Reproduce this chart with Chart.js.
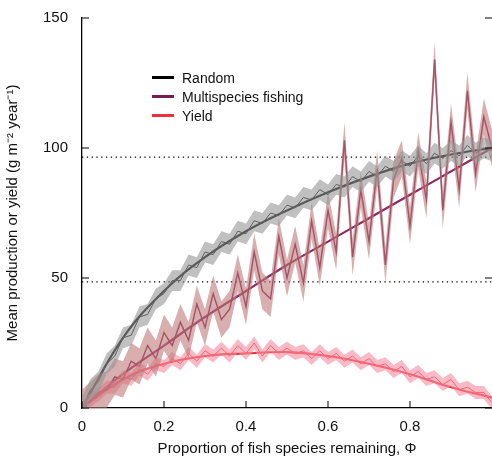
<!DOCTYPE html>
<html>
<head>
<meta charset="utf-8">
<script src="https://cdn.jsdelivr.net/npm/chart.js@4"></script>
<style>
  body { margin: 0; background: #fff; }
  #wrap { position: relative; width: 492px; height: 462px; }
  #legend { position: absolute; left: 152px; top: 68px; font: 14px "Liberation Sans", Arial, sans-serif; color: #111; }
  #legend div { height: 19px; display: flex; align-items: center; }
  #legend span.sw { display: inline-block; width: 22px; height: 3px; margin-right: 8px; }
</style>
</head>
<body>
<div id="wrap">
  <canvas id="chart" width="492" height="462"></canvas>
  <div id="legend">
    <div><span class="sw" style="background:#000"></span>Random</div>
    <div><span class="sw" style="background:#7a1a52"></span>Multispecies fishing</div>
    <div><span class="sw" style="background:#f0303a"></span>Yield</div>
  </div>
</div>
<script>
// x positions of the noisy runs (proportion remaining)
const phi = [0,0.02,0.04,0.06,0.08,0.1,0.12,0.14,0.16,0.18,0.2,0.22,0.24,0.26,0.28,0.3,0.32,0.34,0.36,0.38,0.4,
  0.42,0.44,0.46,0.48,0.5,0.52,0.54,0.56,0.58,0.6,0.62,0.64,0.66,0.68,0.7,0.72,0.74,0.76,0.78,0.8,
  0.82,0.84,0.86,0.88,0.9,0.92,0.94,0.96,0.98,1.0];

const randomRun = [0,7,10,17,20,27,28,35,36,42,44,49,49,55,54,60,59,64,63,68,67,72,71,75,74,78,77,81,80,84,
  82,86,85,89,87,91,89,93,91,95,93,97,94,98,96,99,97,101,98,100,99];
const multiRun = [0,3,6,7,12,11,18,16,24,19,29,24,33,26,40,31,44,34,38,52,39,60,45,42,66,50,63,48,72,54,
  76,60,103,58,84,64,92,55,88,96,70,99,80,134,76,110,84,122,90,112,100];
const yieldRun = [0,3,5,8,8,12,11,15,13,17,16,19,17,21,18,22,20,23,20,24,21,25,20,24,21,23,21,22,19,22,
  19,21,18,20,17,19,16,17,14,16,12,14,11,12,9,11,7,8,6,6,2];

// band half-widths around each run
const randomSpread = 4;
const multiSpread = 7;
const yieldSpread = 2.5;

// fitted curves
const fitX = [0,0.1,0.2,0.3,0.4,0.5,0.6,0.7,0.8,0.9,1.0];
const randomFit = [0,27,45,58,68,76,83,89,94,97.5,100];
const multiFit = [0,13,24,35,45,55,64,73,82,91,100];
const yieldFit = [0,11,17,20,21,21.5,20,17,13,8,4];

const refLevels = [96.5, 48.5];
const yTicks = [0,50,100,150];
const xTicks = [0,0.2,0.4,0.6,0.8];

const pts = (xs, ys) => xs.map((x, i) => ({ x: x, y: ys[i] }));
const shift = (ys, d) => ys.map(v => v + d);

function band(ys, d, color) {
  return [
    { data: pts(phi, shift(ys, -d)), borderWidth: 0, pointRadius: 0, fill: false },
    { data: pts(phi, shift(ys, d)), borderWidth: 0, pointRadius: 0, fill: "-1", backgroundColor: color }
  ];
}
function line(xs, ys, color, w, tension) {
  return { data: pts(xs, ys), borderColor: color, borderWidth: w, pointRadius: 0, fill: false, tension: tension || 0 };
}

const datasets = [
  ...band(randomRun, randomSpread, "rgba(150,150,150,0.6)"),
  ...band(multiRun, multiSpread, "rgba(190,120,120,0.6)"),
  ...band(yieldRun, yieldSpread, "rgba(245,140,160,0.6)"),
  line(phi, randomRun, "#111", 1),
  line(phi, multiRun, "#7a1a52", 1.4),
  line(phi, yieldRun, "#f0303a", 1),
  line(fitX, randomFit, "#000", 2.2, 0.4),
  line(fitX, multiFit, "#8a2a60", 2.2, 0.4),
  line(fitX, yieldFit, "#f0303a", 2.2, 0.4)
];
refLevels.forEach(v => datasets.push({
  data: [{ x: 0, y: v }, { x: 1, y: v }], borderColor: "#000", borderWidth: 1.3,
  borderDash: [1.3, 3.5], pointRadius: 0, fill: false
}));

// inward tick marks
const innerTicks = {
  id: "innerTicks",
  afterDraw(chart) {
    const { ctx, scales: { x, y } } = chart;
    ctx.save();
    ctx.strokeStyle = "#000";
    ctx.lineWidth = 1;
    yTicks.forEach(v => {
      const py = y.getPixelForValue(v);
      ctx.beginPath(); ctx.moveTo(x.left, py); ctx.lineTo(x.left + 7, py); ctx.stroke();
      ctx.beginPath(); ctx.moveTo(x.right, py); ctx.lineTo(x.right - 7, py); ctx.stroke();
    });
    xTicks.forEach(v => {
      const px = x.getPixelForValue(v);
      ctx.beginPath(); ctx.moveTo(px, y.bottom); ctx.lineTo(px, y.bottom - 7); ctx.stroke();
    });
    ctx.restore();
  }
};

Chart.defaults.font.family = "'Liberation Sans', Arial, sans-serif";
Chart.defaults.color = "#111";

new Chart(document.getElementById("chart"), {
  type: "line",
  data: { datasets: datasets },
  plugins: [innerTicks],
  options: {
    responsive: false,
    animation: false,
    layout: { padding: { top: 18, right: 0 } },
    plugins: { legend: { display: false }, tooltip: { enabled: false } },
    scales: {
      x: {
        type: "linear", min: 0, max: 1,
        afterBuildTicks: s => { s.ticks = xTicks.map(v => ({ value: v })); },
        afterFit: s => { s.height = 54; },
        ticks: { font: { size: 15 }, padding: 2, callback: v => v === 0 ? "0" : v.toFixed(1) },
        grid: { display: false },
        border: { color: "#000", width: 1.3 },
        title: { display: true, text: "Proportion of fish species remaining, Φ", font: { size: 15 }, padding: { top: 4 } }
      },
      y: {
        min: 0, max: 150,
        afterBuildTicks: s => { s.ticks = yTicks.map(v => ({ value: v })); },
        afterFit: s => { s.width = 82; },
        ticks: { font: { size: 15 }, padding: 6 },
        grid: { display: false },
        border: { color: "#000", width: 1.3 },
        title: { display: true, text: "Mean production or yield (g m⁻² year⁻¹)", font: { size: 15 }, padding: { bottom: 6 } }
      }
    }
  }
});
</script>
</body>
</html>
